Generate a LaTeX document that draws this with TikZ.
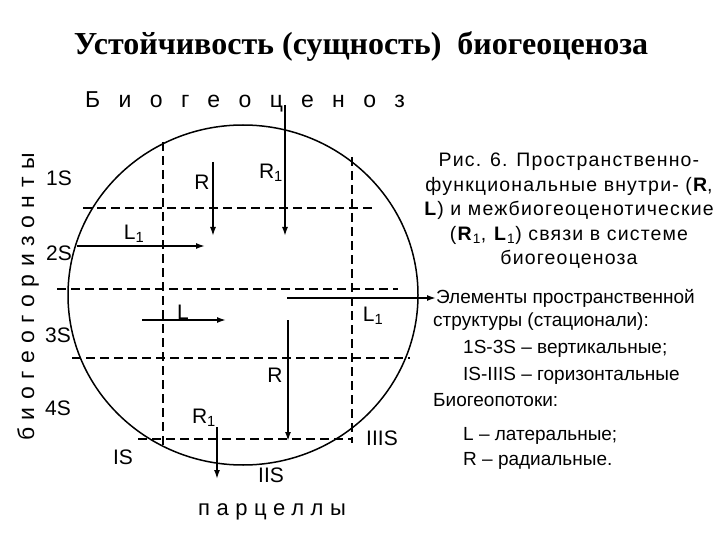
\documentclass[tikz,border=0pt]{standalone}
\usepackage{fontspec}
\setmainfont{Liberation Sans}
\newfontfamily\titlefont{Liberation Serif}
\usetikzlibrary{positioning,calc}
\usetikzlibrary{arrows,arrows.meta}

\tikzset{
  stat/.style={line width=2.7pt, dash pattern=on 9pt off 5pt},
  flow/.style={-{Latex[length=9pt,width=6pt]}, line width=1.6pt},
  lbl/.style={inner sep=0pt, font=\fontsize{21}{22}\selectfont},
  note/.style={inner sep=0pt, font=\fontsize{19}{24.5}\selectfont},
}

\begin{document}
\begin{tikzpicture}[x=1pt,y=-1pt]
  \useasboundingbox (0,0) rectangle (720,540);
  % \draw[step=20pt, gray!20!white, very thin] (0,0) grid (720,540);

  \node[inner sep=0pt, font=\titlefont\bfseries\fontsize{32}{34}\selectfont] at (361,47) (title) {Устойчивость (сущность)\ \ биогеоценоза};

  \node[inner sep=0pt, font=\fontsize{23}{23}\selectfont\addfontfeature{LetterSpace=80}] at (245,102) (bgc_name) {Биогеоценоз};
  \node[inner sep=0pt, font=\fontsize{22}{22}\selectfont\addfontfeature{LetterSpace=30}] at (272,512) (parc) {парцеллы};
  \node[inner sep=0pt, rotate=90, font=\fontsize{23}{23}\selectfont\addfontfeature{LetterSpace=33}] at (28,297) (horiz) {биогеогоризонты};

  % circle and stationals
  \draw[line width=1.5pt] (243,295) ellipse [x radius=175, y radius=170];
  \draw[stat] (83,208) -- (372,208);
  \draw[stat] (57,289) -- (398,289);
  \draw[stat] (72,358) -- (410,358);
  \draw[stat] (138,439) -- (352,439);
  \draw[stat] (163,142) -- (163,447);
  \draw[stat] (352,157) -- (352,443);

  \node[lbl] at (59,178) (s_1) {1S};
  \node[lbl] at (59,253) (s_2) {2S};
  \node[lbl] at (58,335) (s_3) {3S};
  \node[lbl] at (58,408) (s_4) {4S};
  \node[lbl] at (123,457) (s_I) {IS};
  \node[lbl] at (271,475) (s_II) {IIS};
  \node[lbl] at (382,438) (s_III) {IIIS};

  % flows
  \coordinate (r1_top) at (285,105);
  \coordinate (r1_end) at (285,236);
  \coordinate (r_top) at (213,162);
  \coordinate (r_end) at (213,236);
  \coordinate (l1_start) at (77,246);
  \coordinate (l1_end) at (205,246);
  \coordinate (l_start) at (142,320);
  \coordinate (l_end) at (226,320);
  \coordinate (l1r_start) at (287,298);
  \coordinate (r_mid) at (288,320);
  \coordinate (r_mid_end) at (288,441);
  \coordinate (r1_bot) at (217,427);
  \coordinate (r1_bot_end) at (217,479);

  \node[note, anchor=west] at (436,298) (elem) {Элементы пространственной};

  \draw[flow] (r1_top) -- (r1_end);
  \draw[flow] (r_top) -- (r_end);
  \draw[flow] (l1_start) -- (l1_end);
  \draw[flow] (l_start) -- (l_end);
  \draw[flow] (l1r_start) -- (elem.west);
  \draw[flow] (r_mid) -- (r_mid_end);
  \draw[flow] (r1_bot) -- (r1_bot_end);

  \node[lbl] at (271,173) (lab_r1) {R\textsubscript{1}};
  \node[lbl] at (202,182) (lab_r) {R};
  \node[lbl] at (134,234) (lab_l1) {L\textsubscript{1}};
  \node[lbl] at (183,312) (lab_l) {L};
  \node[lbl] at (373,316) (lab_l1r) {L\textsubscript{1}};
  \node[lbl] at (275,375) (lab_rm) {R};
  \node[lbl] at (204,418) (lab_r1b) {R\textsubscript{1}};

  % legend
  \node[note, align=center, font=\fontsize{19.5}{24.5}\selectfont\addfontfeature{LetterSpace=6}] at (569,211) (caption) {Рис. 6. Пространственно-\\функциональные внутри- (\textbf{R},\\\textbf{L}) и межбиогеоценотические\\(\textbf{R}\textsubscript{1}, \textbf{L}\textsubscript{1}) связи в системе\\биогеоценоза};
  \node[note, anchor=west] at (433,322) (struct) {структуры (стационали):};
  \node[note, anchor=west] at (463,349) (vert) {1S-3S -- вертикальные;};
  \node[note, anchor=west] at (463,376) (hor) {IS-IIIS -- горизонтальные};
  \node[note, anchor=west] at (433,400) (potok) {Биогеопотоки:};
  \node[note, anchor=west] at (463,436) (lat) {L -- латеральные;};
  \node[note, anchor=west] at (463,461) (rad) {R -- радиальные.};
\end{tikzpicture}
\end{document}
